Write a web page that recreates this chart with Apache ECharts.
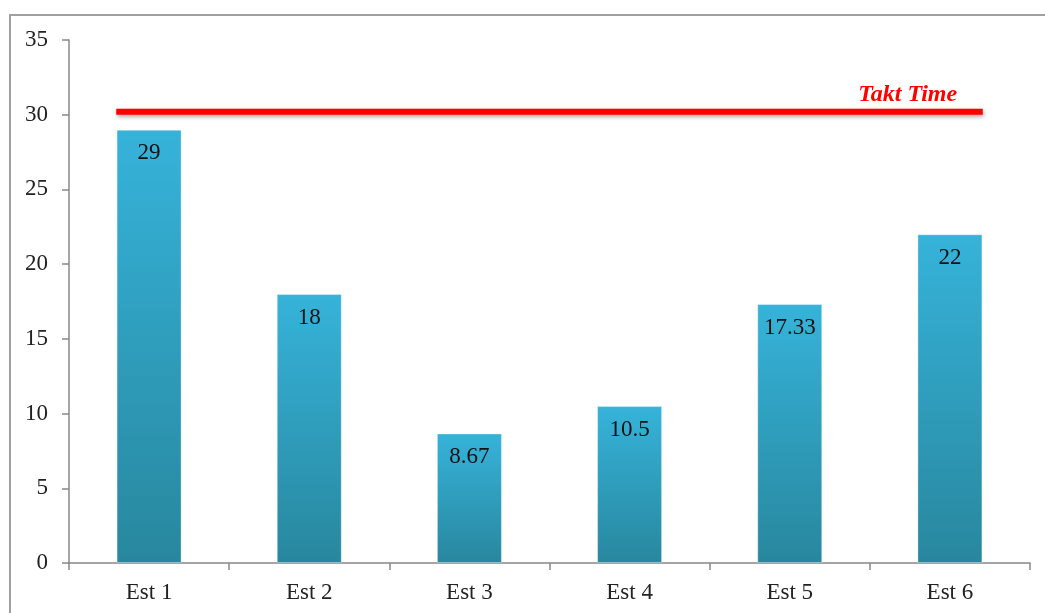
<!DOCTYPE html>
<html><head><meta charset="utf-8">
<script src="https://cdn.jsdelivr.net/npm/echarts@6/dist/echarts.min.js"></script>
<style>html,body{margin:0;padding:0;background:#fff}#c{width:1045px;height:613px}</style>
</head><body><div id="c"></div>
<script>
const categories = ['Est 1','Est 2','Est 3','Est 4','Est 5','Est 6'];
const values = [29, 18, 8.67, 10.5, 17.33, 22];
const taktTime = 30.2;
const taktLabel = 'Takt Time';
const yTicks = {min: 0, max: 35, interval: 5};

const chart = echarts.init(document.getElementById('c'));
const font = '"Liberation Serif", "Times New Roman", serif';
chart.setOption({
  animation: false,
  backgroundColor: '#fff',
  graphic: [{type:'rect', shape:{x:10,y:15,width:1100,height:700}, style:{fill:'none', stroke:'#a0a0a0', lineWidth:2}, z:-1}],
  grid: {left: 69, right: 15, top: 40, bottom: 50},
  xAxis: [{
    type: 'category', data: categories,
    axisLine: {lineStyle: {color: '#888', width: 1.5}},
    axisTick: {show: true, length: 7, lineStyle: {color: '#888', width: 1.5}},
    axisLabel: {fontFamily: font, fontSize: 23, color: '#222', margin: 18}
  }, {
    type: 'value', min: 0, max: 6, show: false
  }],
  yAxis: {
    type: 'value', min: yTicks.min, max: yTicks.max, interval: yTicks.interval,
    splitLine: {show: false},
    axisLine: {show: true, lineStyle: {color: '#888', width: 1.5}},
    axisTick: {show: true, length: 7, lineStyle: {color: '#888', width: 1.5}},
    axisLabel: {fontFamily: font, fontSize: 23, color: '#222', margin: 21}
  },
  series: [{
    type: 'bar', data: values, barWidth: 65, xAxisIndex: 0,
    itemStyle: {
      color: new echarts.graphic.LinearGradient(0,0,0,1,[
        {offset: 0, color: '#36b3da'},
        {offset: 1, color: '#28879e'}
      ]),
      borderColor: 'rgba(255,255,255,0.35)', borderWidth: 1
    },
    label: {show: true, position: 'insideTop', distance: 12, fontFamily: font, fontSize: 23, color: '#111'}
  }, {
    type: 'line', xAxisIndex: 1, symbol: 'none',
    data: [[0.295, taktTime], [5.705, taktTime]],
    lineStyle: {color: '#ff0000', width: 6, cap: 'butt', shadowColor: 'rgba(0,0,0,0.35)', shadowBlur: 4, shadowOffsetY: 2, shadowOffsetX: 1},
    markPoint: {
      symbol: 'circle', symbolSize: 1,
      itemStyle: {color: 'rgba(0,0,0,0)'},
      data: [{coord: [5.705, taktTime], value: taktLabel}],
      label: {show: true, formatter: taktLabel, position: 'top', offset: [-75, 1],
        fontFamily: font, fontSize: 24, fontWeight: 'bold', fontStyle: 'italic', color: '#ff0000'}
    }
  }]
});
</script></body></html>
